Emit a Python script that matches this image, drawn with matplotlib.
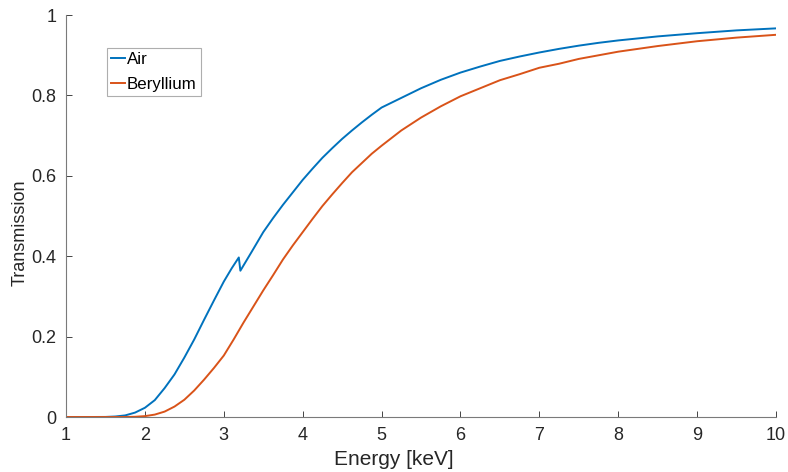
import matplotlib
matplotlib.use("Agg")
import matplotlib.pyplot as plt

# transmission
energy_air = [1.0, 1.25, 1.5, 1.625, 1.75, 1.875, 2.0, 2.125, 2.25, 2.375, 2.5,
              2.625, 2.75, 2.875, 3.0, 3.1, 3.19, 3.21, 3.35, 3.5, 3.625, 3.75,
              3.875, 4.0, 4.125, 4.25, 4.375, 4.5, 4.625, 4.75, 4.875, 5.0,
              5.25, 5.5, 5.75, 6.0, 6.25, 6.5, 6.75, 7.0, 7.25, 7.5, 7.75, 8.0,
              8.5, 9.0, 9.5, 10.0]
trans_air = [0.0, 0.0, 0.0002, 0.0013, 0.004, 0.011, 0.023, 0.042, 0.072, 0.106,
             0.148, 0.193, 0.242, 0.29, 0.337, 0.37, 0.397, 0.364, 0.41, 0.46,
             0.495, 0.528, 0.559, 0.59, 0.618, 0.645, 0.669, 0.692, 0.713,
             0.733, 0.752, 0.770, 0.794, 0.818, 0.839, 0.857, 0.872, 0.886,
             0.897, 0.907, 0.916, 0.924, 0.931, 0.937, 0.947, 0.955, 0.962, 0.967]

energy_be = [1.0, 1.25, 1.5, 1.75, 1.875, 2.0, 2.125, 2.25, 2.375, 2.5, 2.625,
             2.75, 2.875, 3.0, 3.125, 3.25, 3.375, 3.5, 3.625, 3.75, 3.875,
             4.0, 4.125, 4.25, 4.375, 4.5, 4.625, 4.75, 4.875, 5.0, 5.25, 5.5,
             5.75, 6.0, 6.25, 6.5, 6.75, 7.0, 7.25, 7.5, 7.75, 8.0, 8.5, 9.0,
             9.5, 10.0]
trans_be = [0.0, 0.0, 0.0, 0.0001, 0.0006, 0.0022, 0.006, 0.0135, 0.026, 0.043,
            0.066, 0.093, 0.122, 0.153, 0.193, 0.235, 0.275, 0.315, 0.353,
            0.392, 0.427, 0.46, 0.493, 0.525, 0.554, 0.582, 0.609, 0.632,
            0.655, 0.675, 0.713, 0.745, 0.773, 0.798, 0.818, 0.838, 0.853,
            0.869, 0.879, 0.891, 0.900, 0.909, 0.923, 0.935, 0.944, 0.951]

x_ticks = list(range(1, 11))
y_ticks = [0, 0.2, 0.4, 0.6, 0.8, 1]
y_tick_labels = ["0", "0.2", "0.4", "0.6", "0.8", "1"]

plt.rcParams["font.family"] = ["Liberation Sans", "DejaVu Sans"]

fig = plt.figure(figsize=(7.88, 4.72), dpi=100)
ax = fig.add_axes([0.0838, 0.1165, 0.901, 0.8515])

ax.plot(energy_air, trans_air, color="#0072BD", lw=1.4, label="Air")
ax.plot(energy_be, trans_be, color="#D95319", lw=1.4, label="Beryllium")

ax.set_xlim(1, 10)
ax.set_ylim(0, 1)
ax.set_xticks(x_ticks)
ax.set_yticks(y_ticks)
ax.set_yticklabels(y_tick_labels)
ax.tick_params(direction="in", length=4, width=0.6, color="#262626",
               labelsize=13, labelcolor="#262626", pad=7)
for side in ("top", "right"):
    ax.spines[side].set_visible(False)
for side in ("left", "bottom"):
    ax.spines[side].set_color("#7a7a7a")
    ax.spines[side].set_linewidth(0.8)

ax.set_xlabel("Energy [keV]", fontsize=15, color="#262626")
ax.set_ylabel("Transmission", fontsize=13, color="#262626")
ax.xaxis.set_label_coords(0.462, -0.083)
ax.yaxis.set_label_coords(-0.053, 0.458)

leg = ax.legend(loc="upper left", bbox_to_anchor=(0.058, 0.918), fontsize=12.2,
                frameon=True, fancybox=False, handlelength=0.8, handletextpad=0.1,
                borderpad=0.25, labelspacing=0.55, borderaxespad=0)
leg.get_frame().set_edgecolor("#9a9a9a")
leg.get_frame().set_linewidth(0.8)

fig.savefig("out.png", dpi=100)
